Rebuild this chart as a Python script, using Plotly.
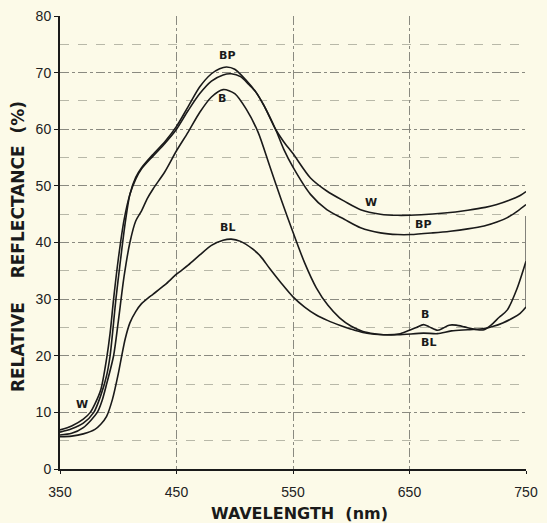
import plotly.graph_objects as go

# ---- data ----
W_x = [350,360,370,376,380,385,390,393,396,400,405,410,415,420,430,440,450,460,470,480,490,497,505,512,518,525,535,542,550,565,579,594,608,625,640,660,680,700,715,725,735,745,750]
W_y = [6.9,7.6,8.8,10,11.5,14,19.5,24,30,37,44,48.5,51.2,53,55.3,57.5,60,63.3,66.3,68.5,69.6,69.8,69.3,67.9,66.6,64.2,60,57.8,55.7,51.4,49.1,47.3,45.8,45,44.8,44.9,45.2,45.7,46.2,46.7,47.4,48.3,49]

BP_x = [350,360,370,379,385,390,393,398,402,406,410,415,420,430,440,450,460,470,480,487,493,500,510,518,525,535,542,550,565,579,594,608,625,640,651,670,685,700,714,725,734,743,750]
BP_y = [6.5,7.1,8.1,10,13,16.5,20,30,37,43.5,48.5,51.5,53.2,55.6,57.8,60.5,64,67.5,69.8,70.7,71,70.6,68.6,66.6,64.2,60,56.5,53.3,48.5,45.8,44.1,42.6,41.7,41.4,41.4,41.7,42,42.4,42.9,43.6,44.4,45.6,46.7]

B_x = [350,360,370,382,386,390,396,400,405,410,415,420,425,430,440,450,460,470,480,490,500,510,520,530,540,550,560,570,580,590,600,610,620,630,642,650,656,662,667,674,679,684,690,697,703,708,714,720,727,734,742,750]
B_y = [6.0,6.3,7.3,10,12,15,20,26,34,40,43.8,45.6,47.8,49.5,52.5,56.2,59.5,63,65.7,67,66.3,63.5,59.5,53.5,47.5,41.8,36.4,32,28.9,26.7,25.2,24.3,23.9,23.7,23.9,24.5,25,25.5,25.1,24.5,24.9,25.4,25.4,25.1,24.8,24.6,24.6,25.4,26.8,28.1,31.7,36.7]

BL_x = [350,360,370,380,385,390,395,400,403,406,410,415,420,425,430,440,450,460,470,480,490,497,505,515,522,530,540,550,560,570,580,590,600,610,620,640,662,674,686,700,714,722,730,739,745,750]
BL_y = [5.7,5.8,6.2,7.0,7.9,9.3,12.3,16.8,20,23,25.8,27.8,29.2,30.1,30.9,32.5,34.4,36,37.8,39.5,40.4,40.6,40.2,38.9,37.6,35.4,32.8,30.4,28.6,27.2,26.2,25.4,24.7,24.1,23.8,23.7,24.0,23.9,24.4,24.6,24.8,25.2,25.8,26.7,27.5,28.6]
BL_pen_x = [750, 750]
BL_pen_y = [28.6, 44.7]

# curve labels: (text, x, y)
LABELS = [("BP", 493, 73.0), ("B", 489, 65.4), ("BL", 494, 42.6),
          ("W", 617, 47.0), ("BP", 662, 43.2), ("B", 663, 27.2),
          ("BL", 666, 22.3), ("W", 369, 11.4)]

X_TICKS = [350, 450, 550, 650, 750]
Y_TICKS = [0, 10, 20, 30, 40, 50, 60, 70, 80]

ink = "#1a1a1a"
fig = go.Figure()
for xs, ys in [(W_x, W_y), (BP_x, BP_y), (B_x, B_y), (BL_x, BL_y)]:
    fig.add_trace(go.Scatter(x=xs, y=ys, mode="lines",
                             line=dict(color=ink, width=1.6, shape="spline", smoothing=0.8),
                             hoverinfo="skip", showlegend=False))
fig.add_trace(go.Scatter(x=BL_pen_x, y=BL_pen_y, mode="lines",
                         line=dict(color="#333", width=1.2), showlegend=False, hoverinfo="skip"))

for t, x, y in LABELS:
    fig.add_annotation(x=x, y=y, text="<b>%s</b>" % t, showarrow=False,
                       font=dict(family="DejaVu Sans", size=11, color=ink))

# axis titles
fig.add_annotation(xref="paper", yref="paper", x=0.515, y=-0.099, yanchor="middle",
                   text="<b>WAVELENGTH  (nm)</b>", showarrow=False,
                   font=dict(family="DejaVu Sans", size=16, color=ink))
fig.add_annotation(xref="paper", yref="paper", x=-0.090, y=0.49, xanchor="center",
                   text="<b>RELATIVE    REFLECTANCE  (%)</b>", textangle=-90, showarrow=False,
                   font=dict(family="DejaVu Sans", size=17, color=ink))

bg = "#fcfae8"
fig.update_layout(
    width=547, height=523,
    margin=dict(l=60, r=21, t=16, b=54),
    paper_bgcolor=bg, plot_bgcolor=bg,
    showlegend=False,
)
fig.update_xaxes(range=[350, 750], tickvals=X_TICKS, ticktext=[str(v) for v in X_TICKS],
                 automargin=False,
                 showline=True, linecolor=ink, linewidth=2,
                 showgrid=True, gridcolor="#8a8a80", gridwidth=1, griddash="dashdot",
                 ticks="outside", ticklen=3, tickcolor=ink, ticklabelstandoff=6,
                 tickfont=dict(family="Liberation Sans", size=14, color="#222"),
                 zeroline=False)
fig.update_yaxes(range=[0, 80], tickvals=Y_TICKS, ticktext=[str(v) for v in Y_TICKS],
                 automargin=False,
                 showline=True, linecolor=ink, linewidth=2,
                 showgrid=True, gridcolor="#8a8a80", gridwidth=1, griddash="dashdot",
                 minor=dict(dtick=5, showgrid=True, gridcolor="#b8b8a8", griddash="dash", gridwidth=1),
                 ticks="outside", ticklen=4, tickcolor=ink,
                 tickfont=dict(family="Liberation Sans", size=14, color="#222"),
                 zeroline=False)

fig.write_html("out.html", config={"displayModeBar": False},
               post_script="document.body.style.margin='0';document.body.style.background='%s';" % bg)
